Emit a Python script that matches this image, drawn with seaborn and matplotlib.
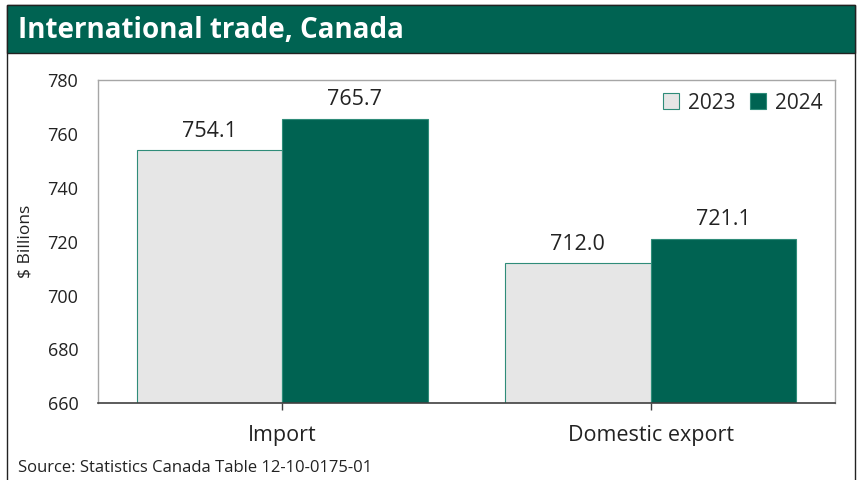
import matplotlib
matplotlib.use("Agg")
import matplotlib.pyplot as plt
from matplotlib.patches import Rectangle
import pandas as pd
import seaborn as sns

# Data ($ billions)
categories = ["Import", "Domestic export"]
years = ["2023", "2024"]
values_2023 = [754.1, 712.0]
values_2024 = [765.7, 721.1]

GREEN = "#006352"
LIGHT = "#E6E6E6"
EDGE = "#2F8C79"

df = pd.DataFrame({
    "category": categories * 2,
    "year": [years[0]] * len(categories) + [years[1]] * len(categories),
    "value": values_2023 + values_2024,
})

sns.set_theme(style="white")
plt.rcParams["font.family"] = ["Open Sans", "DejaVu Sans"]

fig = plt.figure(figsize=(8.58, 4.8), dpi=100)
ax = fig.add_axes([0.114, 0.160, 0.859, 0.673])

sns.barplot(data=df, x="category", y="value", hue="year", order=categories,
            hue_order=years, palette=[LIGHT, GREEN], width=0.79,
            saturation=1, edgecolor=EDGE, linewidth=0.8, ax=ax)

ax.set_ylim(660, 780)
ax.set_yticks(range(660, 781, 20))
ax.set_xlim(-0.5, 1.5)
ax.set_xlabel("")
ax.set_ylabel("$ Billions", fontsize=12.5, color="#222222", labelpad=10)
ax.tick_params(axis="y", length=0, pad=14, labelsize=13, labelcolor="#222222")
ax.tick_params(axis="x", length=5, width=1, color="#404040", pad=11,
               labelsize=15.5, labelcolor="#222222", bottom=True, direction="out")

for side in ["top", "right", "left"]:
    ax.spines[side].set_color("#A6A6A6")
    ax.spines[side].set_linewidth(1)
ax.spines["bottom"].set_color("#404040")
ax.spines["bottom"].set_linewidth(1.2)

for cont in ax.containers:
    ax.bar_label(cont, fmt="%.1f", padding=6, fontsize=15.5, color="#222222")

ax.legend(loc="upper right", frameon=False, fontsize=15, ncol=2,
          handlelength=0.8, handleheight=0.8, handletextpad=0.4,
          columnspacing=0.7, borderaxespad=0.2)

# outer frame and header band
fig.patches.append(Rectangle((7 / 858, -0.01), 848 / 858, 1 - 5 / 480 + 0.01,
                             transform=fig.transFigure, fill=False,
                             edgecolor="#222222", linewidth=1))
fig.patches.append(Rectangle((7 / 858, 1 - 53 / 480), 848 / 858, 48 / 480,
                             transform=fig.transFigure, facecolor=GREEN,
                             edgecolor="#222222", linewidth=1))
fig.text(18 / 858, 1 - 30 / 480, "International trade, Canada", color="white",
         fontsize=20, fontweight="bold", va="center", ha="left")
fig.text(18 / 858, 1 - 468 / 480, "Source: Statistics Canada Table 12-10-0175-01",
         fontsize=12, color="#222222", va="center", ha="left")

fig.savefig("out.png", dpi=100)
